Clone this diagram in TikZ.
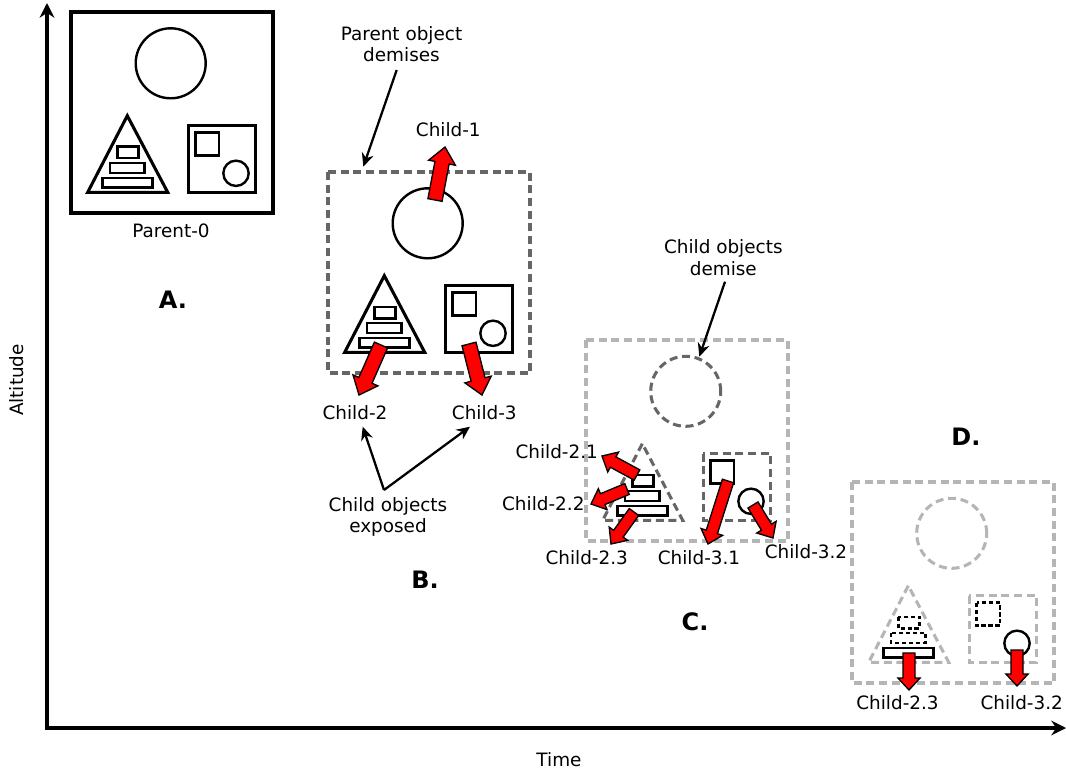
\documentclass[tikz,border=0pt]{standalone}
\usepackage{fontspec}
\setmainfont{DejaVu Sans}
\usetikzlibrary{arrows.meta,calc}
\definecolor{dgray}{HTML}{666666}
\definecolor{lgray}{HTML}{B5B5B5}
\definecolor{arrred}{HTML}{FF0000}

\tikzset{
  lbl/.style={font=\fontsize{13.8}{16}\selectfont, inner sep=0pt, align=center},
  big/.style={font=\fontsize{18}{20}\selectfont\bfseries, inner sep=0pt},
  dsh/.style={dash pattern=on 6pt off 3.5pt},
  dshs/.style={dash pattern=on 3.2pt off 2pt},
  pouter/.style={draw=black, line width=2.6pt},
  pcirc/.style={draw=black, line width=1.8pt},
  ptri/.style={draw=black, line width=2.3pt, line join=miter},
  prA/.style={draw=black, fill=white, line width=1.8pt},
  prB/.style={draw=black, fill=white, line width=1.8pt},
  prC/.style={draw=black, fill=white, line width=1.8pt},
  pinner/.style={draw=black, line width=2.3pt},
  psq/.style={draw=black, line width=2pt},
  psc/.style={draw=black, fill=white, line width=1.8pt},
  redarr/.style={fill=arrred, draw=black, line width=1pt, line join=miter},
  pointer/.style={draw=black, line width=1.7pt, -{Stealth[length=10pt,width=9pt]}},
  axis/.style={draw=black, line width=2.5pt, {Stealth[length=11pt,width=11pt]}-{Stealth[length=11pt,width=11pt]}}
}

\newcommand\panelshapes{%
  \draw[pouter] (71,12) rectangle (273,213);
  \draw[pcirc] (170.7,63.3) circle[radius=26.25pt];
  \draw[ptri] (127.3,115.7) -- (87.7,192.3) -- (167.7,192.3) -- cycle;
  \draw[prA] (117.3,146.7) rectangle (138.3,158.3);
  \draw[prB] (110,162.7) rectangle (144.3,172.7);
  \draw[prC] (102.3,177.7) rectangle (152.3,187.3);
  \draw[pinner] (188.3,125.7) rectangle (255.7,192.3);
  \draw[psq] (195.7,132.7) rectangle (219,155.7);
  \draw[psc] (236,173.3) circle[radius=9.5pt];
}

% tail, tip, shaft half width, head half width, head length
\newcommand\redarrow[5]{%
  \coordinate (#1-n) at ($(#2)!#5!(#1)$);
  \draw[redarr] ($(#1)!#3!90:(#2)$) -- ($(#1-n)!#3!90:(#2)$) -- ($(#1-n)!#4!90:(#2)$)
    -- (#2) -- ($(#1-n)!#4!-90:(#2)$) -- ($(#1-n)!#3!-90:(#2)$) -- ($(#1)!#3!-90:(#2)$) -- cycle;
}

\begin{document}
\begin{tikzpicture}[x=0.75pt,y=-0.75pt]
\useasboundingbox (0,0) rectangle (1066,770);

% axes
\coordinate (ytop) at (47,3);
\coordinate (orig) at (47,728);
\coordinate (xend) at (1066,728);
\draw[axis] (ytop) -- (orig) -- (xend);
\node[lbl, rotate=90] (alt) at (17,380) {Altitude};
\node[lbl] (time) at (559,760) {Time};

% Panel A
\begin{scope}
  \panelshapes
\end{scope}
\node[lbl] (parent0) at (171,231) {Parent-0};
\node[big] (lblA) at (173,300) {A.};

% Panel B
\begin{scope}[shift={(257,160)},
  pouter/.style={draw=dgray, line width=2.6pt, dsh}]
  \panelshapes
\end{scope}
\node[big] (lblB) at (425,580) {B.};

% Panel C
\begin{scope}[shift={(515,328)},
  pouter/.style={draw=lgray, line width=2.6pt, dsh},
  pcirc/.style={draw=dgray, line width=2.3pt, dsh},
  ptri/.style={draw=dgray, line width=2.3pt, dsh},
  pinner/.style={draw=dgray, line width=2.3pt, dsh}]
  \panelshapes
\end{scope}
\node[big] (lblC) at (695,622) {C.};

% Panel D
\begin{scope}[shift={(781,470)},
  pouter/.style={draw=lgray, line width=2.6pt, dsh},
  pcirc/.style={draw=lgray, line width=2.3pt, dsh},
  ptri/.style={draw=lgray, line width=2.3pt, dsh},
  pinner/.style={draw=lgray, line width=2.3pt, dsh},
  prA/.style={draw=black, fill=white, line width=1.8pt, dshs},
  prB/.style={draw=black, fill=white, line width=1.8pt, dshs},
  psq/.style={draw=black, line width=2pt, dshs}]
  \panelshapes
\end{scope}
\node[big] (lblD) at (966,437) {D.};

% red arrows, panel B
\coordinate (b1t) at (435,200); \coordinate (b1h) at (445,147);
\coordinate (b2t) at (381,345); \coordinate (b2h) at (359,395);
\coordinate (b3t) at (469,344); \coordinate (b3h) at (482,395);
\redarrow{b1t}{b1h}{5.4pt}{10.2pt}{12pt}
\redarrow{b2t}{b2h}{5.4pt}{10.2pt}{12pt}
\redarrow{b3t}{b3h}{5.4pt}{10.2pt}{12pt}

% red arrows, panel C
\coordinate (c21t) at (637,475); \coordinate (c21h) at (602,456);
\coordinate (c22t) at (627,489); \coordinate (c22h) at (591,504);
\coordinate (c23t) at (634,512); \coordinate (c23h) at (611,544);
\coordinate (c31t) at (728,481); \coordinate (c31h) at (708,544);
\coordinate (c32t) at (753,505); \coordinate (c32h) at (773,538);
\redarrow{c21t}{c21h}{4.4pt}{8.5pt}{9.5pt}
\redarrow{c22t}{c22h}{4.4pt}{8.5pt}{9.5pt}
\redarrow{c23t}{c23h}{4.4pt}{8.5pt}{9.5pt}
\redarrow{c31t}{c31h}{4.4pt}{8.5pt}{9.5pt}
\redarrow{c32t}{c32h}{4.4pt}{8.5pt}{9.5pt}

% red arrows, panel D
\coordinate (d23t) at (909,653); \coordinate (d23h) at (909,690);
\coordinate (d32t) at (1017,650); \coordinate (d32h) at (1017,686);
\redarrow{d23t}{d23h}{4.5pt}{8.3pt}{9pt}
\redarrow{d32t}{d32h}{4.5pt}{8.3pt}{9pt}

% labels
\node[lbl] (pod) at (401.5,44) {Parent object\\demises};
\node[lbl] (c1) at (448.3,130) {Child-1};
\node[lbl] (c2) at (355,413) {Child-2};
\node[lbl] (c3) at (484.3,413) {Child-3};
\node[lbl] (coe) at (388,517) {Child objects\\exposed};
\node[lbl] (cod) at (723.3,257.5) {Child objects\\demise};
\node[lbl] (c21) at (556.7,452) {Child-2.1};
\node[lbl] (c22) at (543.3,504) {Child-2.2};
\node[lbl] (c23) at (586.7,558) {Child-2.3};
\node[lbl] (c31) at (699,558) {Child-3.1};
\node[lbl] (c32) at (806,552) {Child-3.2};
\node[lbl] (d23) at (897.5,703) {Child-2.3};
\node[lbl] (d32) at (1021.7,703) {Child-3.2};

% pointer arrows
\coordinate (podA) at (396.7,70); \coordinate (podB) at (363.3,166.7);
\coordinate (codA) at (725,281.7); \coordinate (codB) at (699.3,356.7);
\coordinate (coeA) at (384,490);
\coordinate (coe2) at (362.7,426.7); \coordinate (coe3) at (470,426.7);
\draw[pointer] (podA) -- (podB);
\draw[pointer] (codA) -- (codB);
\draw[pointer] (coeA) -- (coe2);
\draw[pointer] (coeA) -- (coe3);
\end{tikzpicture}
\end{document}
